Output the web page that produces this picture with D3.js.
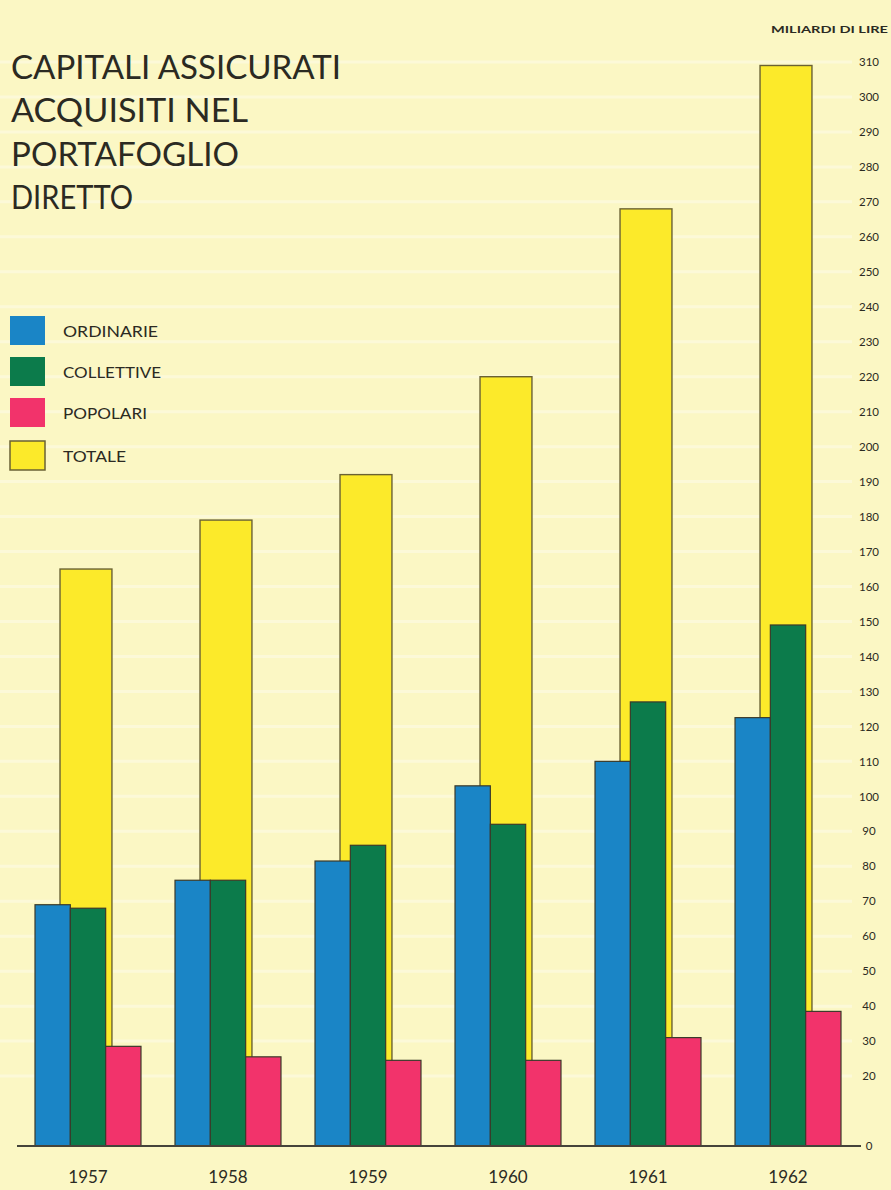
<!DOCTYPE html>
<html lang="it">
<head>
<meta charset="UTF-8">
<title>Capitali assicurati acquisiti nel portafoglio diretto</title>
<script src="https://d3js.org/d3.v7.min.js"></script>
<style>
    body { margin: 0; background: #fbf7c4; }
    svg { display: block; }
    text { font-family: Lato, 'Open Sans', sans-serif; fill: #2b2a22; }
</style>
</head>
<body>
<div id="chart"></div>
<script>
// values in miliardi di lire
const years = ["1957", "1958", "1959", "1960", "1961", "1962"];
const ordinarie = [69, 76, 81.5, 103, 110, 122.5];
const collettive = [68, 76, 86, 92, 127, 149];
const popolari = [28.5, 25.5, 24.5, 24.5, 31, 38.5];
const totale = [165, 179, 192, 220, 268, 309];
const tickValues = [0, 20, 30, 40, 50, 60, 70, 80, 90, 100, 110, 120, 130, 140, 150, 160,
    170, 180, 190, 200, 210, 220, 230, 240, 250, 260, 270, 280, 290, 300, 310];
const titleLines = ["CAPITALI ASSICURATI", "ACQUISITI NEL", "PORTAFOGLIO", "DIRETTO"];
const legendLabels = ["ORDINARIE", "COLLETTIVE", "POPOLARI", "TOTALE"];

const width = 891, height = 1190;
const colors = { ordinarie: "#1a85c6", collettive: "#0c7b4b", popolari: "#f2336b", totale: "#fcea2a" };
const outline = "#3b3a2a";

const svg = d3.select("#chart").append("svg")
    .attr("width", width)
    .attr("height", height);

svg.append("rect").attr("width", width).attr("height", height).attr("fill", "#fbf7c4");

const y = d3.scaleLinear().domain([0, 310]).range([1146, 62]);
const x = d3.scaleBand().domain(years).range([35, 841]).paddingInner(0.243).paddingOuter(0);
const sub = d3.scaleBand().domain(["ordinarie", "collettive", "popolari"]).range([0, x.bandwidth()]);

// faint white stripes at each tick level
svg.append("g")
    .selectAll("line")
    .data(tickValues.filter(d => d > 0))
    .join("line")
    .attr("x1", 0)
    .attr("x2", 852)
    .attr("y1", d => y(d))
    .attr("y2", d => y(d))
    .attr("stroke", "#ffffff")
    .attr("stroke-width", 3)
    .attr("opacity", 0.35);

// title
svg.append("g")
    .selectAll("text")
    .data(titleLines)
    .join("text")
    .attr("x", 11)
    .attr("y", (d, i) => 79 + i * 43.3)
    .attr("font-size", 33)
    .attr("textLength", (d, i) => [330, 237, 228, 122][i])
    .attr("lengthAdjust", "spacingAndGlyphs")
    .text(d => d);

// legend
const legendColors = [colors.ordinarie, colors.collettive, colors.popolari, colors.totale];
const legendY = [316, 357, 398, 441];
const legend = svg.append("g");
legend.selectAll("rect")
    .data(legendLabels)
    .join("rect")
    .attr("x", 10)
    .attr("y", (d, i) => legendY[i])
    .attr("width", 35)
    .attr("height", 29)
    .attr("fill", (d, i) => legendColors[i])
    .attr("stroke", (d, i) => i === 3 ? "#6a6234" : "none")
    .attr("stroke-width", 1.5);
legend.selectAll("text")
    .data(legendLabels)
    .join("text")
    .attr("x", 63)
    .attr("y", (d, i) => legendY[i] + 21)
    .attr("font-size", 15.5)
    .attr("textLength", (d, i) => [95, 98, 84, 63][i])
    .attr("lengthAdjust", "spacingAndGlyphs")
    .text(d => d);

// totale bars behind the others
svg.append("g")
    .selectAll("rect")
    .data(years)
    .join("rect")
    .attr("x", d => x(d) + x.bandwidth() * 0.236)
    .attr("y", (d, i) => y(totale[i]))
    .attr("width", x.bandwidth() * 0.49)
    .attr("height", (d, i) => y(0) - y(totale[i]))
    .attr("fill", colors.totale)
    .attr("stroke", "#6a6234")
    .attr("stroke-width", 1.4);

const series = [
    { key: "ordinarie", values: ordinarie },
    { key: "collettive", values: collettive },
    { key: "popolari", values: popolari }
];

series.forEach(s => {
    svg.append("g")
        .selectAll("rect")
        .data(years)
        .join("rect")
        .attr("x", d => x(d) + sub(s.key))
        .attr("y", (d, i) => y(s.values[i]))
        .attr("width", sub.bandwidth())
        .attr("height", (d, i) => y(0) - y(s.values[i]))
        .attr("fill", colors[s.key])
        .attr("stroke", outline)
        .attr("stroke-width", 1.2);
});

// baseline
svg.append("line")
    .attr("x1", 17).attr("x2", 861)
    .attr("y1", y(0)).attr("y2", y(0))
    .attr("stroke", "#45443a")
    .attr("stroke-width", 1.8);

// years under the groups
const xAxis = svg.append("g")
    .attr("transform", `translate(0,${y(0)})`)
    .call(d3.axisBottom(x).tickSize(0).tickPadding(0));
xAxis.select(".domain").remove();
xAxis.selectAll("text")
    .attr("y", 37)
    .attr("dy", 0)
    .attr("font-size", 17)
    .attr("font-family", "Lato, sans-serif")
    .attr("fill", "#2b2a22");

// value axis on the right
const yAxis = svg.append("g")
    .attr("transform", "translate(869,0)")
    .call(d3.axisRight(y).tickValues(tickValues).tickSize(0).tickPadding(0));
yAxis.select(".domain").remove();
yAxis.selectAll("text")
    .attr("text-anchor", "middle")
    .attr("x", 0)
    .attr("font-size", 11.5)
    .attr("font-family", "Lato, sans-serif")
    .attr("fill", "#2b2a22");

svg.append("text")
    .attr("x", 771)
    .attr("y", 33)
    .attr("font-size", 10)
    .attr("font-weight", "bold")
    .attr("textLength", 117)
    .attr("lengthAdjust", "spacingAndGlyphs")
    .text("MILIARDI DI LIRE");
</script>
</body>
</html>
